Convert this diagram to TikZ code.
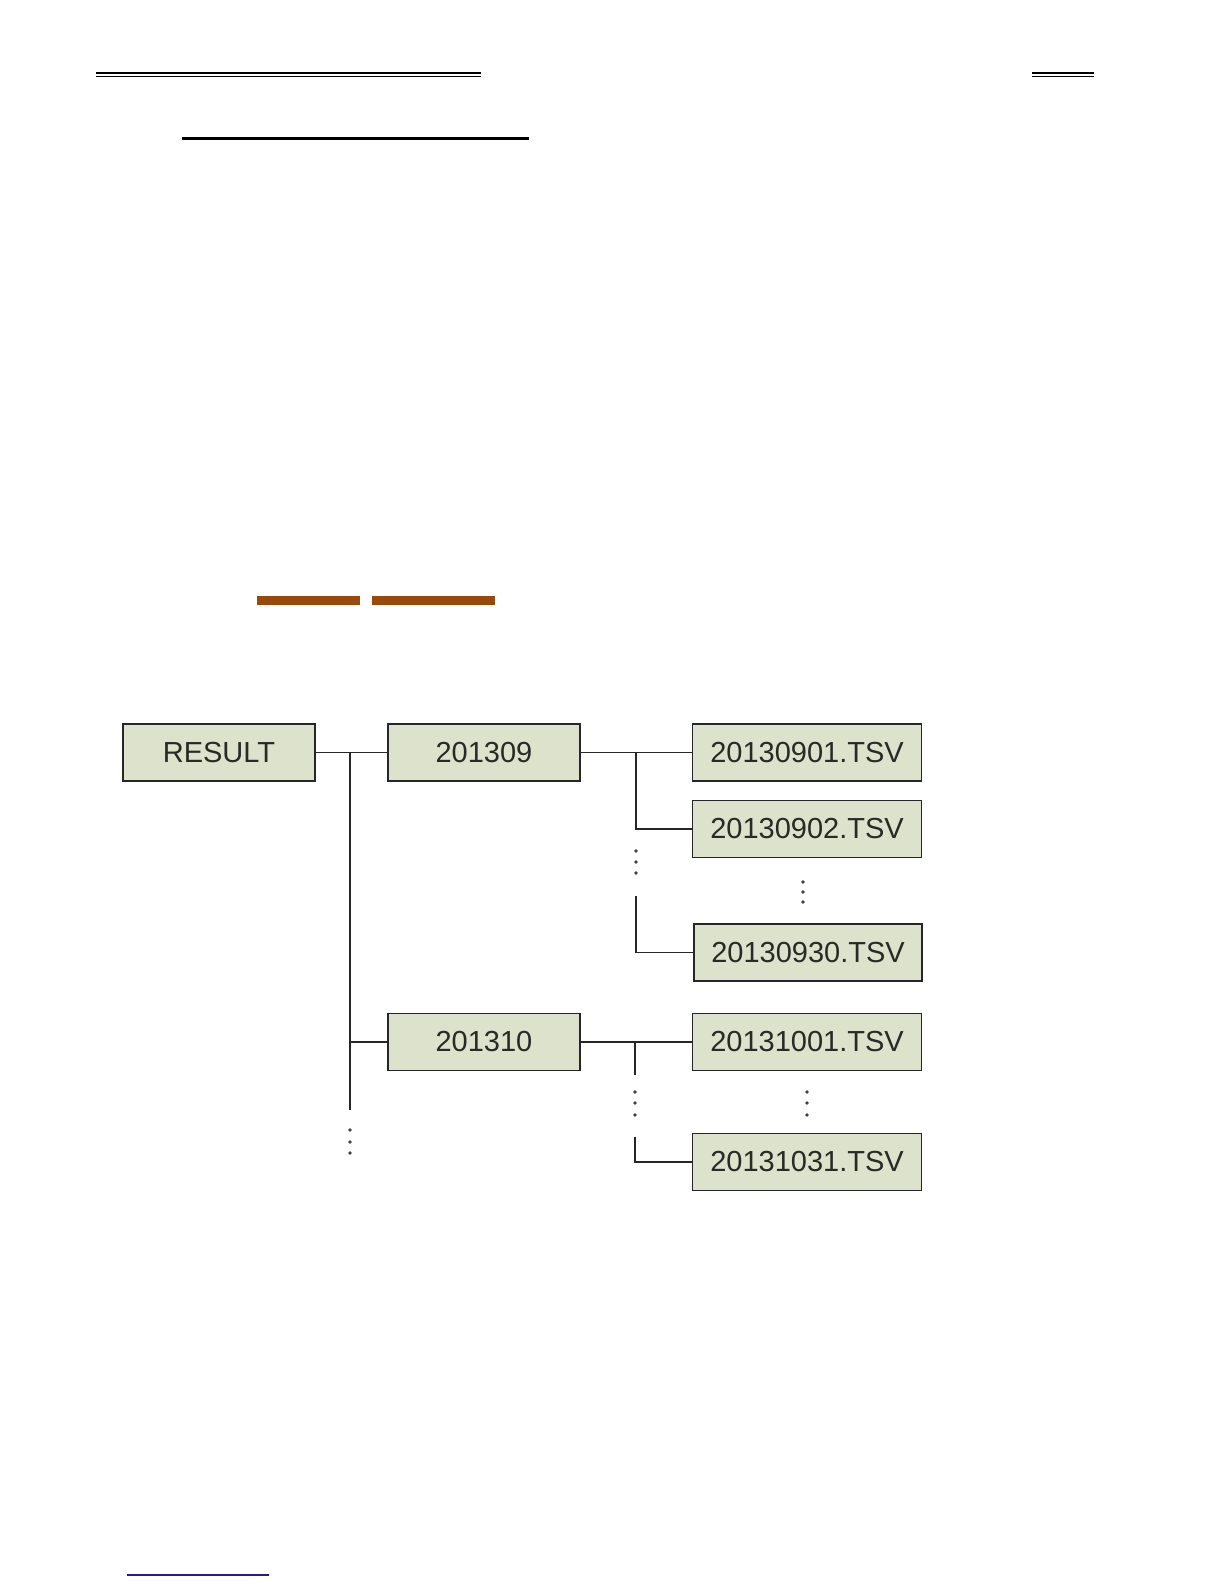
\documentclass[tikz,border=0pt]{standalone}
\usepackage{fontspec}
\setmainfont{Liberation Sans}
\definecolor{boxfill}{RGB}{220,226,204}
\definecolor{boxtext}{RGB}{40,42,36}
\definecolor{brownbar}{RGB}{154,73,12}
\definecolor{linkblue}{RGB}{30,30,140}
\begin{document}
\begin{tikzpicture}[x=1pt,y=-1pt,
  folder/.style={draw=black!85,line width=1.8pt,fill=boxfill,text=boxtext,minimum height=57pt,inner sep=0pt,font=\fontsize{29}{30}\selectfont},
  conn/.style={draw=black!85,line width=1.6pt},
  vdot/.style={fill=black!75,draw=none,circle,minimum size=3.6pt,inner sep=0pt}]
\useasboundingbox[fill=white] (0,0) rectangle (1224,1584);
% page decorations
\draw[line width=2.6pt] (96,73) -- (481,73);
\draw[line width=1pt] (96,76.3) -- (481,76.3);
\draw[line width=2.6pt] (1032,73) -- (1094,73);
\draw[line width=1pt] (1032,76.3) -- (1094,76.3);
\draw[line width=2.6pt] (182,138.5) -- (529,138.5);
\fill[brownbar] (257,596) rectangle (360,604.5);
\fill[brownbar] (372,596) rectangle (495,604.5);
\draw[linkblue,line width=1.4pt] (127,1575) -- (269,1575);
% boxes
\node[folder,minimum width=192pt] (result) at (219,752.5) {RESULT};
\node[folder,minimum width=192pt] (m09) at (484,752.5) {201309};
\node[folder,minimum width=229pt] (f0901) at (807,752.5) {20130901.TSV};
\node[folder,minimum width=229pt] (f0902) at (807,829) {20130902.TSV};
\node[folder,minimum width=228pt] (f0930) at (808,952.5) {20130930.TSV};
\node[folder,minimum width=192pt] (m10) at (484,1042) {201310};
\node[folder,minimum width=229pt] (f1001) at (807,1042) {20131001.TSV};
\node[folder,minimum width=229pt] (f1031) at (807,1162) {20131031.TSV};
% trunk
\coordinate (t0) at (350,752.5);
\coordinate (t1) at (350,1042);
\coordinate (tend) at (350,1110);
\draw[conn] (result.east) -- (m09.west);
\draw[conn] (t0) -- (tend);
\draw[conn] (t1) -- (m10.west);
\node[vdot] (d1) at (350,1130) {};
\node[vdot] (d2) at (350,1142) {};
\node[vdot] (d3) at (350,1153) {};
% branch 201309
\coordinate (b0) at (636,752.5);
\coordinate (b1) at (636,829);
\coordinate (b2) at (636,896);
\coordinate (b3) at (636,952.5);
\draw[conn] (m09.east) -- (f0901.west);
\draw[conn] (b0) -- (b1) -- (f0902.west);
\draw[conn] (b2) -- (b3) -- (f0930.west);
\node[vdot] (e1) at (636,851) {};
\node[vdot] (e2) at (636,862) {};
\node[vdot] (e3) at (636,873) {};
\node[vdot] (g1) at (803,882) {};
\node[vdot] (g2) at (803,892) {};
\node[vdot] (g3) at (803,902) {};
% branch 201310
\coordinate (c0) at (635,1042);
\coordinate (c1) at (635,1075);
\coordinate (c2) at (635,1137);
\coordinate (c3) at (635,1162);
\draw[conn] (m10.east) -- (f1001.west);
\draw[conn] (c0) -- (c1);
\draw[conn] (c2) -- (c3) -- (f1031.west);
\node[vdot] (h1) at (635,1092) {};
\node[vdot] (h2) at (635,1103) {};
\node[vdot] (h3) at (635,1115) {};
\node[vdot] (k1) at (807,1092) {};
\node[vdot] (k2) at (807,1103) {};
\node[vdot] (k3) at (807,1115) {};
\end{tikzpicture}
\end{document}
